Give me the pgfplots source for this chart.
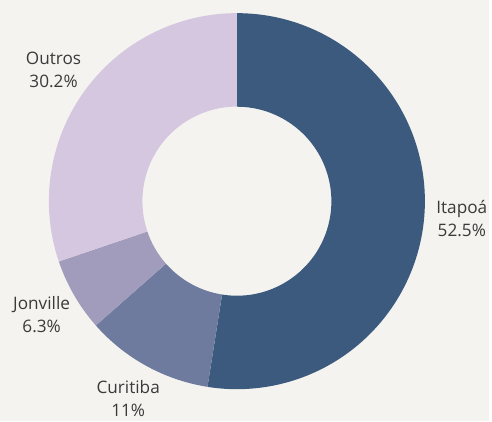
\documentclass[border=0pt]{standalone}
\usepackage{pgfplots}
\pgfplotsset{compat=1.18}
\usepackage{fontspec}
\setmainfont{Open Sans}
\definecolor{bg}{HTML}{F5F3EF}
\definecolor{cA}{HTML}{3B5A7E}
\definecolor{cB}{HTML}{6F7A9F}
\definecolor{cC}{HTML}{A19CBC}
\definecolor{cD}{HTML}{D4C7DF}
\definecolor{txt}{HTML}{3A3A3A}
\newlength{\Ro}\setlength{\Ro}{4.6154cm}
\newlength{\Ri}\setlength{\Ri}{2.32cm}
% #1 colour, #2 cumulative percent before, #3 percent, #4 label
\newcommand{\slice}[4]{%
  \pgfmathsetmacro{\aS}{90-3.6*#2}%
  \pgfmathsetmacro{\aE}{90-3.6*(#2+#3)}%
  \pgfmathsetmacro{\aM}{90-3.6*(#2+#3/2)}%
  \edef\doslice{\noexpand\fill[#1] (axis cs:{cos(\aS)},{sin(\aS)}) arc[start angle=\aS, end angle=\aE, radius=\noexpand\Ro] -- (axis cs:{0.503*cos(\aE)},{0.503*sin(\aE)}) arc[start angle=\aE, end angle=\aS, radius=\noexpand\Ri] -- cycle;
  \noexpand\node[align=center, text=txt, font=\noexpand\fontsize{12}{16}\noexpand\selectfont] at (axis cs:{1.2*cos(\aM)},{1.2*sin(\aM)}) {#4};}%
  \doslice
}
\begin{document}
\begin{tikzpicture}
\fill[bg] (0,0) rectangle (12cm,10.338cm);
\begin{axis}[
  at={(0,0)}, anchor=south west,
  width=12cm, height=10.338cm, scale only axis,
  xmin=-1.26, xmax=1.34, ymin=-1.17, ymax=1.07,
  hide axis, clip=false,
]
\slice{cA}{0}{52.5}{Itapoá\\52.5\%}
\slice{cB}{52.5}{11}{Curitiba\\11\%}
\slice{cC}{63.5}{6.3}{Jonville\\6.3\%}
\slice{cD}{69.8}{30.2}{Outros\\30.2\%}
\end{axis}
\end{tikzpicture}
\end{document}
